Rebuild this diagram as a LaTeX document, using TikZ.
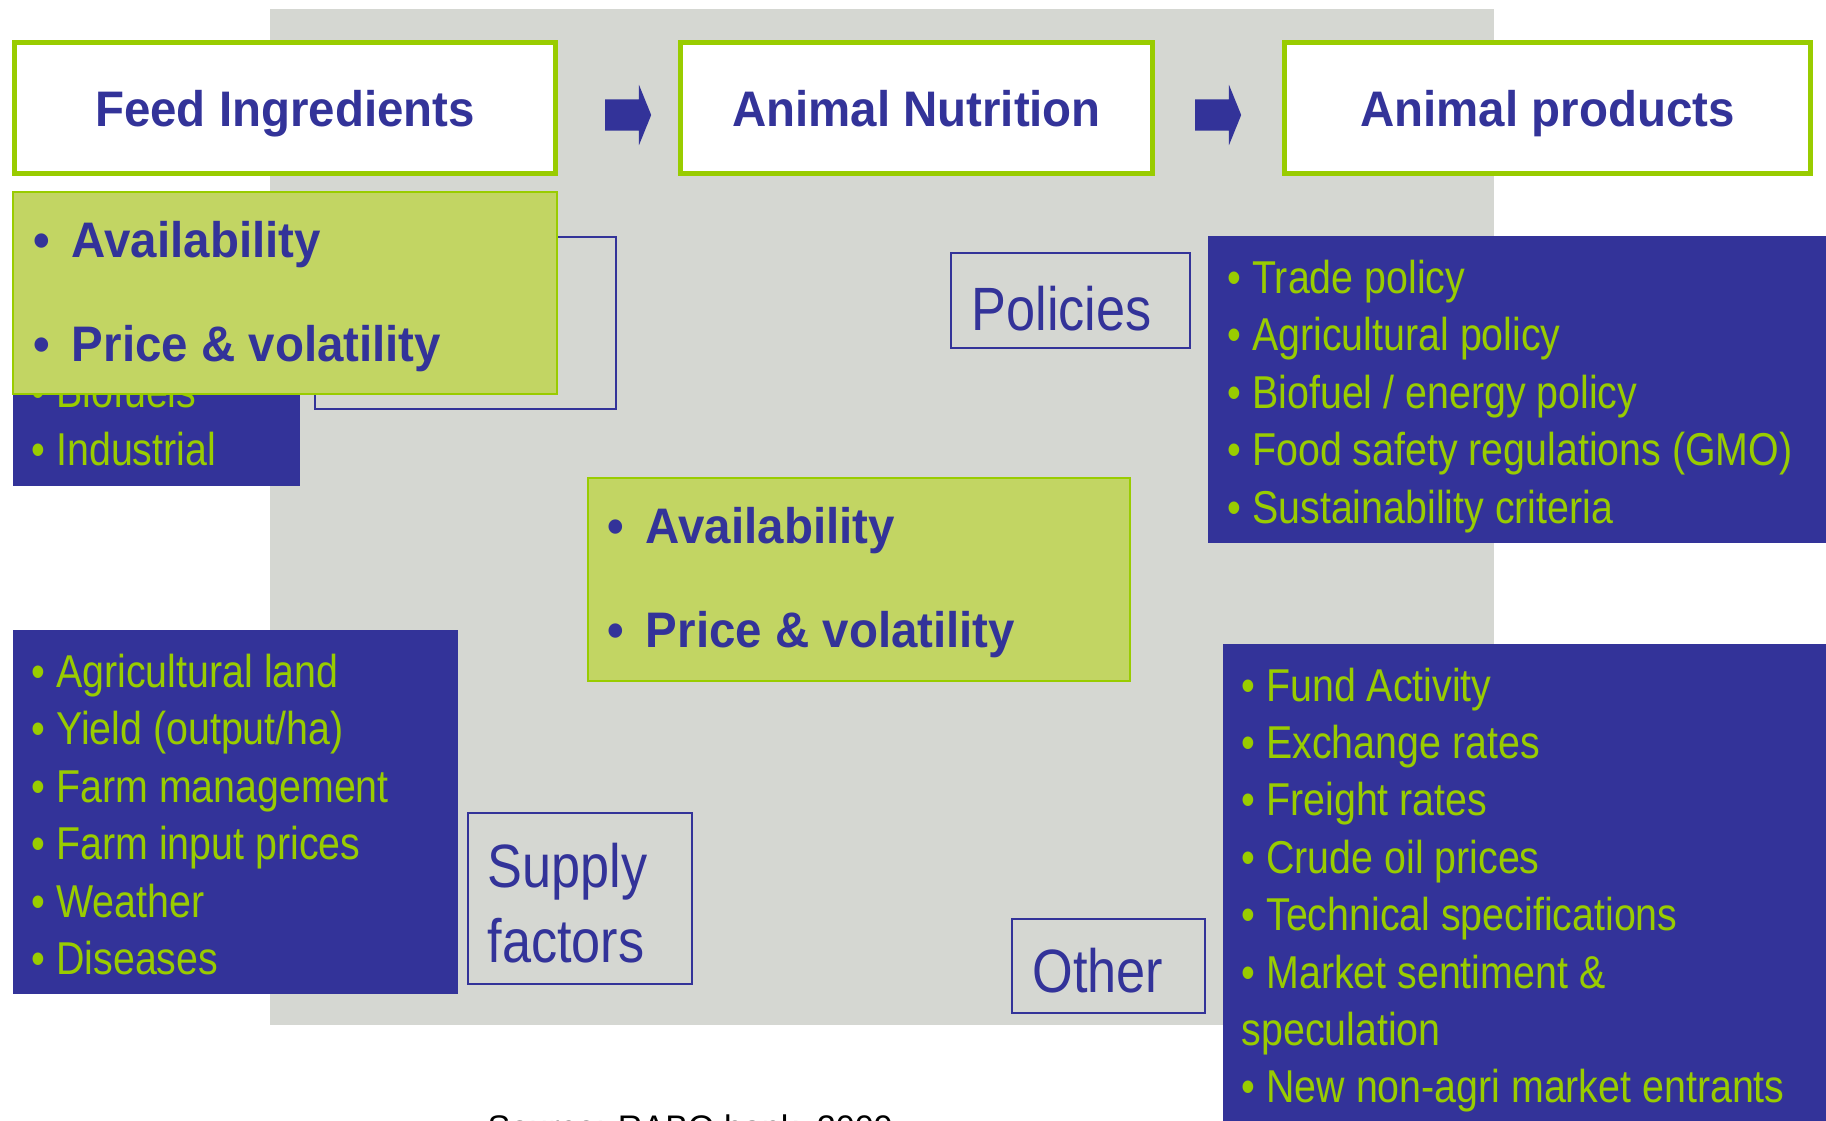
\documentclass[tikz,border=0pt]{standalone}
\usepackage{fontspec}
\setmainfont{Liberation Sans}
\newfontfamily\narrowfont{Liberation Sans}[FakeStretch=0.854]
\newfontfamily\headfont{Liberation Sans}[FakeStretch=0.95]
\usetikzlibrary{fit, shapes.arrows}
\definecolor{navy}{HTML}{333399}
\definecolor{lime}{HTML}{99CC00}
\definecolor{limefill}{HTML}{C2D563}
\definecolor{panel}{HTML}{D5D7D2}
\newcommand\bul{\makebox[0.383cm][l]{•}}

\begin{document}
\begin{tikzpicture}[x=0.01cm, y=-0.01cm,
    titlebox/.style={draw=lime, line width=0.05cm, fill=white, inner sep=0pt, text=navy,
      minimum height=1.31cm, text height=0.36cm, text depth=0pt,
      font=\headfont\bfseries\fontsize{14.2pt}{17pt}\selectfont},
    keybox/.style={draw=lime, line width=0.02cm, fill=limefill, inner sep=0pt},
    keyitem/.style={anchor=base west, inner sep=0pt, text=navy,
      font=\headfont\bfseries\fontsize{14.2pt}{17pt}\selectfont},
    listbox/.style={fill=navy, inner sep=0pt},
    listitem/.style={anchor=base west, inner sep=0pt, text=lime,
      font=\narrowfont\fontsize{13.1pt}{16pt}\selectfont},
    factorbox/.style={draw=navy, line width=0.02cm, inner sep=0pt},
    factorlbl/.style={anchor=base west, inner sep=0pt, text=navy,
      font=\narrowfont\fontsize{17.4pt}{21pt}\selectfont},
    blockarrow/.style={single arrow, fill=navy, inner xsep=0pt, inner ysep=0.15cm,
      minimum height=0.46cm, single arrow head extend=0.145cm, single arrow tip angle=136}]
  \clip (0,0) rectangle (1826,1121);
  \node[fill=panel, inner sep=0pt, fit={(270,9) (1494,1025)}] (panel) {};
  % chain along the top
  \node[titlebox, minimum width=5.41cm] (feed) at (285,108) {Feed Ingredients};
  \node[titlebox, minimum width=4.72cm] (nutrition) at (916.5,108) {Animal Nutrition};
  \node[titlebox, minimum width=5.26cm] (products) at (1547.5,108) {Animal products};
  \node[blockarrow] (arrA) at (625,115) {};
  \node[blockarrow] (arrB) at (1215,115) {};
  % demand side, mostly covered by the key box
  \node[factorbox, fit={(315,237) (616,409)}] (demand) {};
  \node[listbox, fit={(13,300) (300,486)}] (uses) {};
  \foreach \t [count=\i from 0] in {Biofuels, Industrial}
    \node[listitem] (use\i) at (31,407+58*\i) {• \t};
  \node[keybox, fit={(13,192) (557,394)}] (keyfeed) {};
  \node[keyitem] (keyfeedA) at (33,257) {\bul Availability};
  \node[keyitem] (keyfeedB) at (33,361) {\bul Price \& volatility};
  % policies
  \node[factorbox, fit={(951,253) (1190,348)}] (policies) {};
  \node[factorlbl] (policieslbl) at (971,330) {Policies};
  \node[listbox, fit={(1208,236) (1826,543)}] (policylist) {};
  \foreach \t [count=\i from 0] in {Trade policy, Agricultural policy, Biofuel / energy policy,
      Food safety regulations (GMO), Sustainability criteria}
    \node[listitem] (pol\i) at (1227,293+57.5*\i) {• \t};
  % centre
  \node[keybox, fit={(588,478) (1130,681)}] (keynut) {};
  \node[keyitem] (keynutA) at (607,543) {\bul Availability};
  \node[keyitem] (keynutB) at (607,647) {\bul Price \& volatility};
  % supply
  \node[listbox, fit={(13,630) (458,994)}] (supplylist) {};
  \foreach \t [count=\i from 0] in {Agricultural land, Yield (output/ha), Farm management,
      Farm input prices, Weather, Diseases}
    \node[listitem] (sup\i) at (31,687+57.5*\i) {• \t};
  \node[factorbox, fit={(468,813) (692,984)}] (supply) {};
  \node[factorlbl] (supplylbl) at (487,887) {Supply};
  \node[factorlbl] (supplylblb) at (487,962) {factors};
  % other
  \node[factorbox, fit={(1012,919) (1205,1013)}] (other) {};
  \node[factorlbl] (otherlbl) at (1032,992) {Other};
  \node[listbox, fit={(1223,644) (1826,1121)}] (otherlist) {};
  \foreach \t [count=\i from 0] in {• Fund Activity, • Exchange rates, • Freight rates,
      • Crude oil prices, • Technical specifications, • Market sentiment \&,
      speculation, • New non-agri market entrants}
    \node[listitem] (oth\i) at (1241,701+57.4*\i) {\t};
  \node[anchor=base west, inner sep=0pt, font=\fontsize{9.7pt}{12pt}\selectfont] (source)
    at (487,1139) {Source: RABO bank, 2009};
\end{tikzpicture}
\end{document}
